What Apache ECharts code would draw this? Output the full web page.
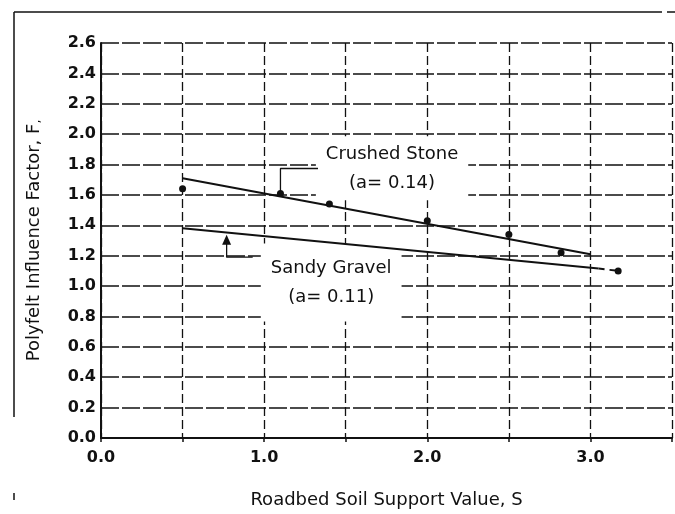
<!DOCTYPE html>
<html>
<head>
<meta charset="utf-8">
<script src="https://cdn.jsdelivr.net/npm/echarts@6/dist/echarts.min.js"></script>
<style>
  html, body { margin: 0; padding: 0; background: #fff; }
  #main { width: 675px; height: 514px; }
</style>
</head>
<body>
<div id="main"></div>
<script>
// 数据
var stoneX = [0.5, 1.1, 1.4, 2.0, 2.5, 2.82, 3.17];
var stoneY = [1.64, 1.61, 1.54, 1.43, 1.34, 1.22, 1.10];
// 拟合线 (a = 0.14 / a = 0.11)
var stoneFitX = [0.5, 3.0];
var stoneFitY = [1.71, 1.21];
var gravelFitX = [0.5, 3.05];
var gravelFitY = [1.38, 1.115];
var gravelExtX = [3.05, 3.17];
var gravelExtY = [1.115, 1.10];
// 引线
var stoneLeadX = [1.1, 1.1, 1.33];
var stoneLeadY = [1.61, 1.774, 1.774];
var gravelLeadX = [0.77, 0.77, 0.93];
var gravelLeadY = [1.30, 1.19, 1.19];
var gravelArrowX = [0.77];
var gravelArrowY = [1.305];
// 标注
var annoText = ['Crushed Stone\n(a= 0.14)', 'Sandy Gravel\n(a= 0.11)'];
var annoX = [1.784, 1.411];
var annoY = [1.775, 1.024];
var annoPad = [[3, 10], [10, 10]];

var xTicks = ['0.0', '1.0', '2.0', '3.0'];

function zip(xs, ys) {
    return xs.map(function (x, i) { return [x, ys[i]]; });
}

var chart = echarts.init(document.getElementById('main'));

var font = 'DejaVu Sans';
var ink = '#111';

option = {
    backgroundColor: '#fff',
    animation: false,
    grid: { left: 101, right: 2, top: 43, bottom: 76 },
    xAxis: {
        type: 'value',
        min: 0,
        max: 3.5,
        interval: 0.5,
        name: 'Roadbed Soil Support Value, S',
        nameLocation: 'middle',
        nameGap: 53,
        nameTextStyle: { fontFamily: font, fontSize: 18, color: ink },
        axisLine: { lineStyle: { color: ink, width: 2 } },
        axisTick: { show: true, length: 4, lineStyle: { color: ink, width: 1.5 } },
        axisLabel: {
            margin: 12,
            fontFamily: font,
            fontSize: 16,
            fontWeight: 'bold',
            color: ink,
            formatter: function (v) {
                var s = v.toFixed(1);
                return xTicks.indexOf(s) >= 0 ? s : '';
            }
        },
        splitLine: { show: true, lineStyle: { color: ink, width: 1.3, type: [9, 4] } }
    },
    yAxis: {
        type: 'value',
        min: 0,
        max: 2.6,
        interval: 0.2,
        name: 'Polyfelt Influence Factor, F{s|,}',
        nameLocation: 'middle',
        nameGap: 58,
        nameTextStyle: {
            fontFamily: font, fontSize: 18, color: ink,
            rich: { s: { fontFamily: font, fontSize: 12, color: ink, verticalAlign: 'bottom' } }
        },
        axisLine: { show: true, lineStyle: { color: ink, width: 2 } },
        axisTick: { show: false },
        axisLabel: {
            margin: 5,
            fontFamily: font,
            fontSize: 16,
            fontWeight: 'bold',
            color: ink,
            formatter: function (v) { return v.toFixed(1); }
        },
        splitLine: { show: true, lineStyle: { color: ink, width: 1.6, type: [18, 3] } }
    },
    graphic: [
        // 扫描件外框
        { type: 'line', shape: { x1: 14, y1: 12, x2: 662, y2: 12 }, style: { stroke: ink, lineWidth: 1.5 } },
        { type: 'line', shape: { x1: 667, y1: 12, x2: 675, y2: 12 }, style: { stroke: ink, lineWidth: 1.5 } },
        { type: 'line', shape: { x1: 14, y1: 12, x2: 14, y2: 417 }, style: { stroke: ink, lineWidth: 1.5 } },
        { type: 'line', shape: { x1: 14, y1: 493, x2: 14, y2: 500 }, style: { stroke: ink, lineWidth: 1.5 } }
    ],
    series: [
        {
            name: 'labels',
            type: 'scatter',
            symbolSize: 0,
            z: 5,
            silent: true,
            itemStyle: { opacity: 1 },
            data: annoText.map(function (t, i) {
                return { value: [annoX[i], annoY[i]], name: t, label: { padding: annoPad[i] } };
            }),
            label: {
                show: true,
                position: 'inside',
                formatter: function (p) { return p.name; },
                fontFamily: font,
                fontSize: 18,
                lineHeight: 29,
                color: ink,
                opacity: 1,
                backgroundColor: '#fff'
            }
        },
        {
            name: 'Crushed Stone',
            type: 'line',
            z: 6,
            data: zip(stoneFitX, stoneFitY),
            symbol: 'none',
            lineStyle: { color: ink, width: 2 }
        },
        {
            name: 'Sandy Gravel',
            type: 'line',
            z: 6,
            data: zip(gravelFitX, gravelFitY),
            symbol: 'none',
            lineStyle: { color: ink, width: 2 }
        },
        {
            name: 'Sandy Gravel ext',
            type: 'line',
            z: 6,
            data: zip(gravelExtX, gravelExtY),
            symbol: 'none',
            lineStyle: { color: ink, width: 2, type: [6, 5] }
        },
        {
            name: 'stone lead',
            type: 'line',
            z: 6,
            data: zip(stoneLeadX, stoneLeadY),
            symbol: 'none',
            lineStyle: { color: ink, width: 1.3 }
        },
        {
            name: 'gravel lead',
            type: 'line',
            z: 6,
            data: zip(gravelLeadX, gravelLeadY),
            symbol: 'none',
            lineStyle: { color: ink, width: 1.3 }
        },
        {
            name: 'gravel arrow',
            type: 'scatter',
            z: 7,
            data: zip(gravelArrowX, gravelArrowY),
            symbol: 'triangle',
            symbolSize: [9, 10],
            itemStyle: { color: ink, opacity: 1 }
        },
        {
            name: 'points',
            type: 'scatter',
            z: 7,
            data: zip(stoneX, stoneY),
            symbol: 'circle',
            symbolSize: 7,
            itemStyle: { color: ink, opacity: 1 }
        }
    ]
};

chart.setOption(option);
</script>
</body>
</html>
